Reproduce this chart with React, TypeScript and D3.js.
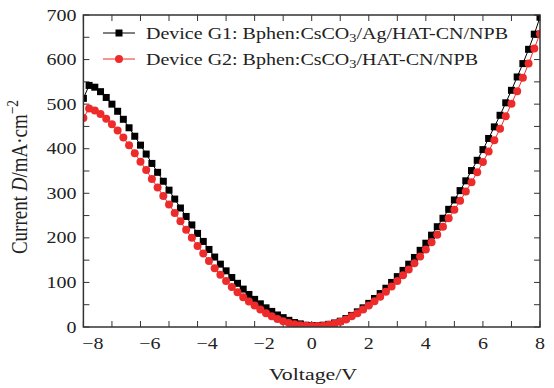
import React from 'react';
import * as d3 from 'd3';

const voltage = [
  -8.0, -7.8, -7.6, -7.4, -7.2, -7.0, -6.8, -6.6, -6.4, -6.2,
  -6.0, -5.8, -5.6, -5.4, -5.2, -5.0, -4.8, -4.6, -4.4, -4.2,
  -4.0, -3.8, -3.6, -3.4, -3.2, -3.0, -2.8, -2.6, -2.4, -2.2,
  -2.0, -1.8, -1.6, -1.4, -1.2, -1.0, -0.8, -0.6, -0.4, -0.2,
  0.0, 0.2, 0.4, 0.6, 0.8, 1.0, 1.2, 1.4, 1.6, 1.8,
  2.0, 2.2, 2.4, 2.6, 2.8, 3.0, 3.2, 3.4, 3.6, 3.8,
  4.0, 4.2, 4.4, 4.6, 4.8, 5.0, 5.2, 5.4, 5.6, 5.8,
  6.0, 6.2, 6.4, 6.6, 6.8, 7.0, 7.2, 7.4, 7.6, 7.8, 8.0,
];

const deviceG1 = [
  513, 542, 538, 528, 515, 500, 484, 466, 447, 428,
  408, 388, 367, 347, 327, 307, 287, 267, 248, 229,
  210, 192, 174, 157, 141, 126, 111, 98, 85, 73,
  62, 52, 43, 35, 27, 21, 15, 10, 7, 4,
  3, 3, 4, 6, 9, 13, 19, 26, 34, 43,
  53, 64, 75, 87, 100, 113, 127, 141, 156, 172,
  188, 206, 225, 244, 264, 285, 306, 328, 351, 374,
  398, 423, 449, 475, 503, 531, 561, 591, 623, 657, 695,
];

const deviceG2 = [
  469, 490, 486, 478, 467, 455, 441, 425, 408, 390,
  371, 352, 332, 313, 294, 275, 256, 237, 218, 200,
  182, 165, 148, 132, 117, 103, 90, 78, 67, 57,
  48, 39, 31, 24, 18, 13, 9, 6, 4, 3,
  2, 2, 3, 5, 8, 12, 17, 24, 31, 39,
  48, 58, 68, 79, 91, 103, 116, 129, 143, 158,
  174, 190, 207, 225, 244, 263, 283, 304, 325, 347,
  370, 394, 419, 445, 473, 501, 529, 559, 591, 625, 658,
];

const xTickLabels = [-8, -6, -4, -2, 0, 2, 4, 6, 8];
const xMinorTicks = [-7, -5, -3, -1, 1, 3, 5, 7];
const yTickLabels = [0, 100, 200, 300, 400, 500, 600, 700];
const yMinorTicks = [50, 150, 250, 350, 450, 550, 650];

const FONT = '"Liberation Serif", "Times New Roman", serif';
const SX = 1.25;

const L = 83.4, R = 540, T = 15, B = 327;

export default function App() {
  const x = d3.scaleLinear().domain([-8, 8]).range([L, R]);
  const y = d3.scaleLinear().domain([0, 700]).range([B, T]);
  const line = d3.line<number>().x((_, i) => x(voltage[i])).y((d) => y(d));

  const fmt = (v: number) => (v < 0 ? '\u2212' + Math.abs(v) : String(v));

  const Txt = (p: { x: number; y: number; anchor?: string; size?: number; children: React.ReactNode }) => (
    <g transform={`translate(${p.x},${p.y}) scale(${SX},1)`}>
      <text textAnchor={p.anchor || 'start'} fontFamily={FONT} fontSize={p.size || 16} fill="#222">
        {p.children}
      </text>
    </g>
  );

  const tickLen = 6;
  const axisColor = '#333';

  return (
    <svg width={554} height={388} style={{ position: 'absolute', left: 0, top: 0, background: '#fff' }}>
      <defs>
        <clipPath id="plotClip">
          <rect x={L} y={T} width={R - L} height={B - T} />
        </clipPath>
      </defs>
      <rect x={0} y={0} width={554} height={388} fill="#fff" />

      {/* ticks */}
      {[...xTickLabels, ...xMinorTicks].map((v) => (
        <g key={'xt' + v}>
          <line x1={x(v)} x2={x(v)} y1={B} y2={B - tickLen} stroke={axisColor} strokeWidth={1} />
          <line x1={x(v)} x2={x(v)} y1={T} y2={T + tickLen} stroke={axisColor} strokeWidth={1} />
        </g>
      ))}
      {[...yTickLabels, ...yMinorTicks].map((v) => (
        <g key={'yt' + v}>
          <line x1={L} x2={L + tickLen} y1={y(v)} y2={y(v)} stroke={axisColor} strokeWidth={1} />
          <line x1={R} x2={R - tickLen} y1={y(v)} y2={y(v)} stroke={axisColor} strokeWidth={1} />
        </g>
      ))}

      {/* series */}
      <g clipPath="url(#plotClip)">
        <path d={line(deviceG1) || ''} fill="none" stroke="#000" strokeWidth={1} />
        <path d={line(deviceG2) || ''} fill="none" stroke="#ee2b2b" strokeWidth={1} />
        {deviceG1.map((d, i) => (
          <rect key={'s' + i} x={x(voltage[i]) - 3.5} y={y(d) - 3.5} width={7} height={7} fill="#000" />
        ))}
        {deviceG2.map((d, i) => (
          <circle key={'c' + i} cx={x(voltage[i])} cy={y(d)} r={4} fill="#ee2b2b" />
        ))}
      </g>

      {/* frame */}
      <rect x={L} y={T} width={R - L} height={B - T} fill="none" stroke={axisColor} strokeWidth={1.5} />

      {/* tick labels */}
      {xTickLabels.map((v) => (
        <Txt key={'xl' + v} x={x(v) + (v < 0 ? 9.5 : 0)} y={349} anchor="middle">
          {fmt(v)}
        </Txt>
      ))}
      {yTickLabels.map((v) => (
        <Txt key={'yl' + v} x={76.5} y={y(v) + 5.5} anchor="end">
          {String(v)}
        </Txt>
      ))}

      {/* axis titles */}
      <Txt x={313} y={380} anchor="middle" size={17.5}>
        Voltage/V
      </Txt>
      <g transform={`translate(27,177) rotate(-90) scale(1,${SX})`}>
        <text textAnchor="middle" fontFamily={FONT} fontSize={19} fill="#222">
          Current <tspan fontStyle="italic">D</tspan>/mA·cm
          <tspan dy={-7.5} fontSize={13.5}>{'\u2212'}2</tspan>
        </text>
      </g>

      {/* legend */}
      <line x1={103} x2={135} y1={33} y2={33} stroke="#000" strokeWidth={1} />
      <rect x={119 - 3.5} y={33 - 3.5} width={7} height={7} fill="#000" />
      <Txt x={146} y={39}>
        Device G1: Bphen:CsCO<tspan dy={3} fontSize={11.5}>3</tspan>
        <tspan dy={-3}>/Ag/HAT-CN/NPB</tspan>
      </Txt>
      <line x1={103} x2={135} y1={59} y2={59} stroke="#ee2b2b" strokeWidth={1} />
      <circle cx={119} cy={59} r={4} fill="#ee2b2b" />
      <Txt x={146} y={64.5}>
        Device G2: Bphen:CsCO<tspan dy={3} fontSize={11.5}>3</tspan>
        <tspan dy={-3}>/HAT-CN/NPB</tspan>
      </Txt>
    </svg>
  );
}
